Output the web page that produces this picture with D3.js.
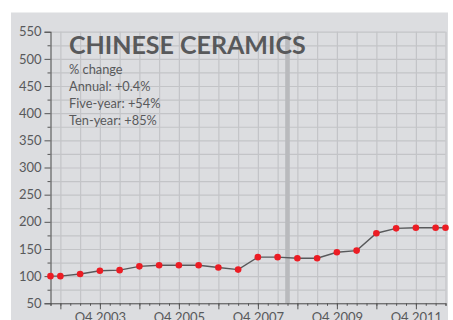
<!DOCTYPE html>
<html>
<head>
<meta charset="utf-8">
<script src="https://cdn.jsdelivr.net/npm/d3@7"></script>
<style>
  body { margin: 0; background: #fff; }
  svg text { font-family: Lato, "Open Sans", sans-serif; fill: #58595b; }
</style>
</head>
<body>
<div id="chart"></div>
<script>
// data (index, half-yearly)
var quarters = ["Q3 2002", "Q4 2002", "Q2 2003", "Q4 2003", "Q2 2004", "Q4 2004",
  "Q2 2005", "Q4 2005", "Q2 2006", "Q4 2006", "Q2 2007", "Q4 2007", "Q2 2008",
  "Q4 2008", "Q2 2009", "Q4 2009", "Q2 2010", "Q4 2010", "Q2 2011", "Q4 2011",
  "Q2 2012", "Q3 2012"];
var values = [100, 100, 104, 110, 111, 118, 120, 120, 120, 116, 112, 135, 135,
  133, 133, 144, 147, 179, 188, 189, 189, 189];
var xLabels = ["Q4 2003", "Q4 2005", "Q4 2007", "Q4 2009", "Q4 2011"];
var yTicks = [50, 100, 150, 200, 250, 300, 350, 400, 450, 500, 550];
var crisis = ["Q3 2008"];
var title = "CHINESE CERAMICS";
var notes = ["% change", "Annual: +0.4%", "Five-year: +54%", "Ten-year: +85%"];

// "Q4 2003" -> 2003.75
function qNum(s) {
  var p = s.split(" ");
  return +p[1] + (+p[0].slice(1) - 1) / 4;
}

var svgWidth = 453;
var svgHeight = 320;

var margin = { top: 31.7, right: 7.5, bottom: 16.7, left: 50.5 };
var width = svgWidth - margin.left - margin.right;
var height = svgHeight - margin.top - margin.bottom;

var svg = d3.select("#chart")
  .append("svg")
  .attr("width", svgWidth)
  .attr("height", svgHeight);

// grey panel
svg.append("rect")
  .attr("x", 11)
  .attr("y", 12.5)
  .attr("width", 437)
  .attr("height", 320)
  .attr("fill", "#dcdde0");

var chartGroup = svg.append("g")
  .attr("transform", `translate(${margin.left}, ${margin.top})`);

var first = qNum(quarters[0]);
var last = qNum(quarters[quarters.length - 1]);

var xScale = d3.scaleLinear()
  .domain([first, last])
  .range([0, width]);

var yScale = d3.scaleLinear()
  .domain([50, 550])
  .range([height, 0]);

// grid
var halfYears = d3.range(first + 0.25, last, 0.5).concat([last]);
chartGroup.append("g")
  .attr("class", "grid")
  .call(d3.axisBottom(xScale).tickValues(halfYears).tickSize(height).tickFormat(""))
  .call(g => g.select(".domain").remove())
  .selectAll("line")
  .attr("stroke", "#c3c4c7")
  .attr("stroke-width", 1.2);

chartGroup.append("g")
  .attr("class", "grid")
  .call(d3.axisLeft(yScale).tickValues(d3.range(50, 551, 25)).tickSize(-width).tickFormat(""))
  .call(g => g.select(".domain").remove())
  .selectAll("line")
  .attr("stroke", "#c3c4c7")
  .attr("stroke-width", 1.2);

// crisis band
chartGroup.selectAll(".crisis")
  .data(crisis)
  .enter()
  .append("rect")
  .attr("class", "crisis")
  .attr("x", d => xScale(qNum(d)) - 2.3)
  .attr("y", 0)
  .attr("width", 4.6)
  .attr("height", height)
  .attr("fill", "#b9babd");

// y axis
var leftAxis = d3.axisLeft(yScale)
  .tickValues(yTicks)
  .tickSize(6)
  .tickPadding(3)
  .tickFormat(d3.format("d"));

var yAxis = chartGroup.append("g").call(leftAxis);
yAxis.select(".domain").attr("stroke", "#555").attr("stroke-width", 1.1);
yAxis.selectAll("line").attr("stroke", "#555");
yAxis.selectAll("text").style("font-size", "13px").attr("fill", "#58595b");

chartGroup.append("g")
  .call(d3.axisLeft(yScale).tickValues(d3.range(75, 550, 50)).tickSize(3).tickFormat(""))
  .call(g => g.select(".domain").remove())
  .selectAll("line").attr("stroke", "#555");

// x axis
var quarterTicks = d3.range(first, last + 0.01, 0.25);
var xAxis = chartGroup.append("g")
  .attr("transform", `translate(0, ${height})`)
  .call(d3.axisBottom(xScale).tickValues(quarterTicks).tickSize(2.5).tickFormat(""));
xAxis.select(".domain").attr("stroke", "#555").attr("stroke-width", 1.1);
xAxis.selectAll("line").attr("stroke", "#555");

var labelAxis = chartGroup.append("g")
  .attr("transform", `translate(0, ${height})`)
  .call(d3.axisBottom(xScale)
    .tickValues(quarterTicks.filter(d => Math.abs(d % 1 - 0.75) < 0.01))
    .tickSize(6)
    .tickPadding(3)
    .tickFormat(d => xLabels.indexOf("Q4 " + Math.floor(d)) >= 0 ? "Q4 " + Math.floor(d) : ""));
labelAxis.select(".domain").remove();
labelAxis.selectAll("line").attr("stroke", "#555");
labelAxis.selectAll("text").style("font-size", "13px").attr("fill", "#58595b");

// line + points
var line = d3.line()
  .x((d, i) => xScale(qNum(quarters[i])))
  .y(d => yScale(d));

chartGroup.append("path")
  .datum(values)
  .attr("d", line)
  .attr("fill", "none")
  .attr("stroke", "#58595b")
  .attr("stroke-width", 1.4);

chartGroup.selectAll(".dot")
  .data(values)
  .enter()
  .append("circle")
  .attr("class", "dot")
  .attr("cx", (d, i) => xScale(qNum(quarters[i])))
  .attr("cy", d => yScale(d))
  .attr("r", 3.3)
  .attr("fill", "#ec1c24");

// title and notes
svg.append("text")
  .attr("x", 69)
  .attr("y", 53.5)
  .style("font-size", "25px")
  .style("font-weight", "700")
  .text(title);

svg.selectAll(".note")
  .data(notes)
  .enter()
  .append("text")
  .attr("class", "note")
  .attr("x", 69)
  .attr("y", (d, i) => 74 + i * 17)
  .style("font-size", "12.8px")
  .text(d => d);
</script>
</body>
</html>
